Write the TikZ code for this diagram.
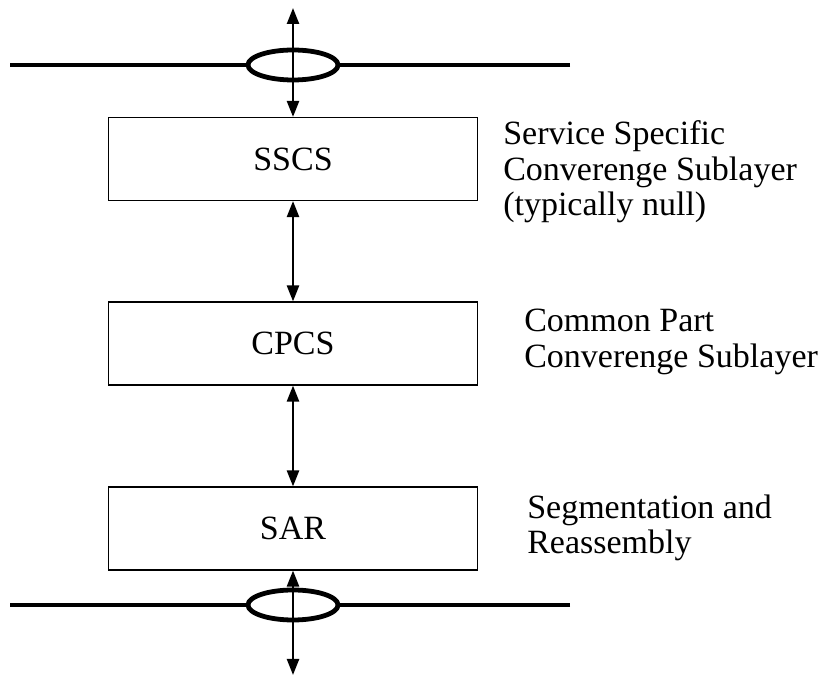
\documentclass[tikz,border=0pt]{standalone}
\usepackage{fontspec}
\setmainfont{Liberation Serif}
\usetikzlibrary{arrows.meta}
\begin{document}
\begin{tikzpicture}[x=0.75pt,y=-0.75pt,
  layerbox/.style={draw, line width=1.1pt, minimum width=277pt, minimum height=62pt, inner sep=0pt, font=\fontsize{25.5}{28}\selectfont},
  desc/.style={anchor=west, align=left, inner sep=0pt, font=\fontsize{25.5}{26.5}\selectfont},
  bus/.style={line width=3.6pt},
  ring/.style={line width=3.6pt},
  dblarrow/.style={line width=1.8pt, {Triangle[length=12pt,width=9pt]}-{Triangle[length=12pt,width=9pt]}}]
\useasboundingbox (0,0) rectangle (836,680);
\node[layerbox] (sscs) at (293,159) {SSCS};
\node[layerbox] (cpcs) at (293,343.5) {CPCS};
\node[layerbox] (sar) at (293,528.5) {SAR};
\coordinate (topL) at (10,65);
\coordinate (topR) at (570,65);
\coordinate (botL) at (10,605);
\coordinate (botR) at (570,605);
\coordinate (topEnd) at (293,8);
\coordinate (botEnd) at (293,675);
\coordinate (topRing) at (293,65);
\coordinate (botRing) at (293,605);
\draw[bus] (topL) -- ++(238,0);
\draw[bus] (topR) -- ++(-232,0);
\draw[bus] (botL) -- ++(238,0);
\draw[bus] (botR) -- ++(-232,0);
\draw[ring] (topRing) ellipse [x radius=45, y radius=15];
\draw[ring] (botRing) ellipse [x radius=45, y radius=15];
\draw[dblarrow] (topEnd) -- (sscs.north -| topEnd);
\draw[dblarrow] (sscs.south -| topEnd) -- (cpcs.north -| topEnd);
\draw[dblarrow] (cpcs.south -| topEnd) -- (sar.north -| topEnd);
\draw[dblarrow] (sar.south -| topEnd) -- (botEnd);
\node[desc] (d1) at (503,172) {Service Specific\\Converenge Sublayer\\(typically null)};
\node[desc] (d2) at (524,342) {Common Part\\Converenge Sublayer};
\node[desc] (d3) at (527,528) {Segmentation and\\Reassembly};
\end{tikzpicture}
\end{document}
